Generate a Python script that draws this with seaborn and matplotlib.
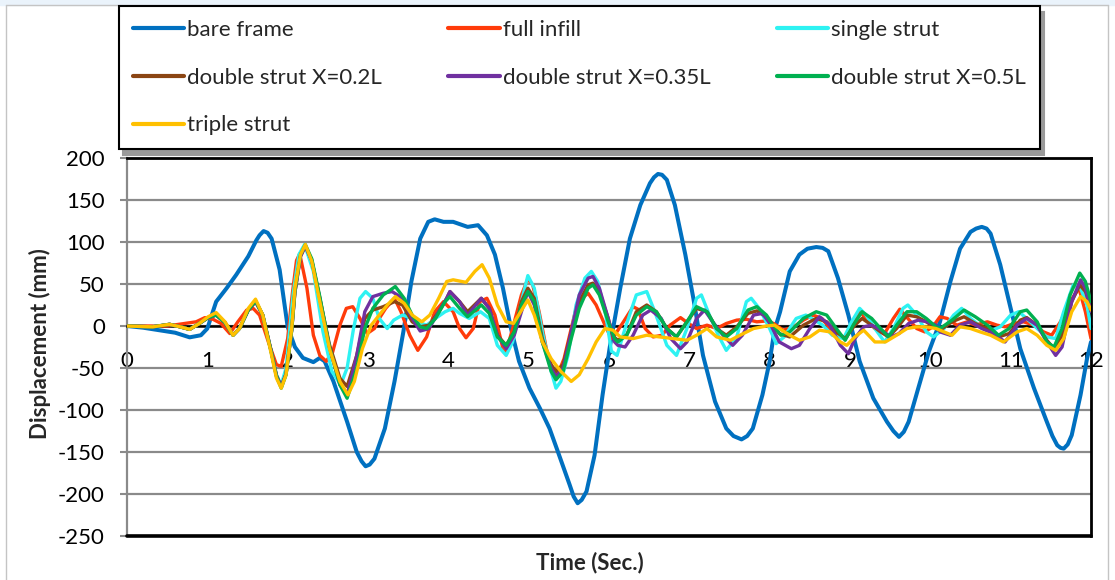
import matplotlib
matplotlib.use('Agg')
import matplotlib.pyplot as plt
import pandas as pd
import seaborn as sns
from matplotlib.lines import Line2D
from matplotlib.patches import Rectangle

# ---- data (time in s, displacement in mm) ----
t_bare = [0, 0.2, 0.4, 0.6, 0.78, 0.92, 1.0, 1.11, 1.24, 1.36, 1.51, 1.61, 1.65, 1.70, 1.75, 1.80, 1.90, 2.0,
          2.09, 2.19, 2.32, 2.40, 2.46, 2.57, 2.74, 2.86, 2.92, 2.97, 3.02, 3.08, 3.21, 3.33, 3.44, 3.54, 3.65,
          3.75, 3.83, 3.94, 4.06, 4.24, 4.37, 4.48, 4.58, 4.68, 4.78, 4.88, 5.01, 5.14, 5.26, 5.38, 5.51, 5.56,
          5.61, 5.66, 5.72, 5.82, 5.92, 6.01, 6.14, 6.26, 6.39, 6.51, 6.56, 6.61, 6.66, 6.72, 6.82, 6.95, 7.05,
          7.17, 7.32, 7.46, 7.55, 7.65, 7.72, 7.79, 7.91, 8.0, 8.06, 8.13, 8.25, 8.37, 8.47, 8.58, 8.66, 8.73,
          8.85, 8.98, 9.12, 9.29, 9.46, 9.54, 9.61, 9.67, 9.73, 9.85, 9.98, 10.12, 10.25, 10.37, 10.50, 10.57,
          10.64, 10.70, 10.75, 10.87, 11.0, 11.12, 11.29, 11.45, 11.52, 11.58, 11.62, 11.66, 11.71, 11.76,
          11.87, 11.95, 12.0]
bare_frame = [0, -2, -5, -8, -13.5, -11, -3, 29, 45, 61, 83, 102, 108, 113, 111, 104, 67, -1,
              -25, -38, -43, -38, -42, -66, -114, -150, -161, -167, -165, -158, -122, -66, -7, 53, 104,
              124, 127, 124, 124, 118, 120, 108, 85, 45, -3, -42, -74, -98, -122, -154, -189, -203,
              -211, -207, -197, -154, -82, -25, 45, 104, 144, 170, 177, 181, 180, 174, 144, 85, 33,
              -35, -90, -122, -131, -135, -131, -122, -82, -42, -5, 17, 65, 85, 92, 94, 93, 89,
              57, 13, -42, -86, -114, -125, -132, -126, -114, -74, -31, 5, 53, 92, 112, 116,
              118, 116, 110, 73, 21, -27, -74, -114, -131, -142, -145, -146, -141, -130,
              -82, -39, -19]

t_full = [0, 0.5, 0.86, 0.97, 1.07, 1.17, 1.28, 1.38, 1.49, 1.57, 1.65, 1.76, 1.86, 1.92, 2.0, 2.06, 2.11, 2.15,
          2.24, 2.32, 2.40, 2.48, 2.56, 2.65, 2.73, 2.81, 2.90, 2.99, 3.08, 3.14, 3.22, 3.33, 3.41, 3.52, 3.62,
          3.73, 3.83, 3.94, 4.02, 4.06, 4.14, 4.22, 4.31, 4.39, 4.48, 4.58, 4.68, 4.72, 4.80, 4.91, 4.99, 5.05,
          5.13, 5.22, 5.30, 5.36, 5.44, 5.53, 5.61, 5.74, 5.84, 5.95, 6.03, 6.07, 6.18, 6.30, 6.36, 6.45, 6.55,
          6.66, 6.76, 6.89, 6.99, 7.09, 7.22, 7.34, 7.46, 7.59, 7.71, 7.84, 7.96, 8.05, 8.17, 8.30, 8.42, 8.54,
          8.65, 8.75, 8.88, 8.96, 9.04, 9.12, 9.20, 9.31, 9.43, 9.54, 9.62, 9.72, 9.83, 9.93, 10.03, 10.12,
          10.21, 10.33, 10.46, 10.56, 10.71, 10.83, 10.93, 11.04, 11.16, 11.29, 11.41, 11.51, 11.62, 11.74,
          11.85, 11.93, 12.0]
full_infill = [0, 0, 5, 10, 8, 3, -9, 5, 19, 21, 13, -19, -46, -48, -15, 40, 78, 86,
               45, -11, -35, -42, -31, 1, 21, 23, 9, -9, -3, 9, 21, 33, 17, -11, -29,
               -13, 17, 29, 21, 17, -3, -14, -3, 29, 33, 13, -27, -31, -3, 37, 56, 49,
               17, -27, -54, -58, -39, -3, 29, 39, 25, 1, -15, -11, 5, 23, 20, -3, -13,
               -11, 1, 10, 3, -3, 1, -3, 3, 7, 8, 5, 6, 3, -5, -1, 7, 13,
               9, -3, -13, -13, 5, 19, 7, -3, -9, 9, 20, 9, -3, -7, -1, 11,
               9, 1, 5, 1, 5, 1, -1, 3, 5, 1, -7, -11, 5, 29,
               45, 17, -15]

t_single = [0, 0.3, 0.53, 0.66, 0.78, 0.9, 1.01, 1.11, 1.22, 1.32, 1.4, 1.51, 1.6, 1.69, 1.8, 1.86, 1.92, 1.98,
            2.07, 2.14, 2.21, 2.32, 2.44, 2.55, 2.66, 2.74, 2.82, 2.90, 2.97, 3.06, 3.14, 3.24, 3.32, 3.43,
            3.55, 3.67, 3.73, 3.84, 3.96, 4.06, 4.14, 4.26, 4.40, 4.51, 4.61, 4.72, 4.80, 4.91, 4.99, 5.07,
            5.17, 5.28, 5.34, 5.40, 5.49, 5.59, 5.70, 5.78, 5.86, 5.96, 6.03, 6.10, 6.20, 6.34, 6.47, 6.57,
            6.72, 6.84, 6.97, 7.09, 7.15, 7.25, 7.36, 7.46, 7.59, 7.71, 7.77, 7.87, 8.0, 8.08, 8.18, 8.33,
            8.45, 8.56, 8.66, 8.78, 8.92, 9.02, 9.12, 9.20, 9.31, 9.43, 9.54, 9.66, 9.72, 9.83, 9.95, 10.04,
            10.17, 10.29, 10.39, 10.50, 10.66, 10.77, 10.87, 11.0, 11.10, 11.20, 11.33, 11.45, 11.56, 11.66,
            11.78, 11.87, 11.95, 12.0]
single_strut = [0, -1, 2, -1, -4, 3, 10, 14, 4, -11, -3, 20, 30, 13, -33, -58, -70, -50,
                40, 85, 97, 65, -7, -54, -70, -50, -3, 33, 41, 33, 9, -3, 7, 13,
                9, 3, 1, 9, 17, 21, 15, 9, 17, 9, -23, -35, -19, 29, 60, 45,
                -7, -54, -74, -66, -35, 25, 57, 65, 53, 13, -30, -35, -3, 37, 41, 17,
                -23, -35, -3, 33, 37, 13, -11, -29, -13, 29, 33, 21, -3, -21, -13, 9,
                13, 7, 1, -11, -15, 5, 21, 13, -3, -19, -3, 21, 25, 13, -7, -13,
                -3, 13, 21, 9, -3, -5, -1, 13, 17, 9, -3, -13, -15, 17,
                49, 45, 25, -3]

t_d02 = [0, 0.32, 0.53, 0.66, 0.78, 0.9, 1.01, 1.11, 1.22, 1.32, 1.40, 1.51, 1.60, 1.69, 1.80, 1.86, 1.92, 1.98,
         2.05, 2.09, 2.16, 2.22, 2.30, 2.40, 2.52, 2.65, 2.74, 2.86, 2.96, 3.06, 3.19, 3.33, 3.43, 3.55, 3.65,
         3.76, 3.88, 3.98, 4.02, 4.14, 4.24, 4.41, 4.51, 4.61, 4.72, 4.82, 4.91, 4.99, 5.07, 5.17, 5.28, 5.34,
         5.43, 5.53, 5.63, 5.74, 5.80, 5.88, 5.99, 6.05, 6.11, 6.22, 6.34, 6.47, 6.59, 6.72, 6.84, 6.97, 7.09,
         7.22, 7.34, 7.46, 7.59, 7.73, 7.84, 7.96, 8.03, 8.12, 8.25, 8.42, 8.58, 8.71, 8.83, 8.94, 9.06, 9.15,
         9.27, 9.38, 9.48, 9.58, 9.71, 9.83, 9.95, 10.07, 10.12, 10.27, 10.42, 10.56, 10.71, 10.85, 10.98,
         11.12, 11.20, 11.33, 11.45, 11.54, 11.64, 11.76, 11.86, 11.93, 12.0]
double_02 = [0, -1, 2, -1, -4, 3, 10, 13, 4, -11, -3, 19, 29, 13, -32, -59, -72, -57,
             -5, 40, 83, 95, 78, 33, -22, -62, -72, -35, 9, 19, 23, 29, 25, 5, -1,
             1, 17, 33, 41, 29, 17, 33, 21, -11, -23, -7, 29, 45, 33, -15, -46, -54,
             -46, -7, 29, 49, 51, 41, 9, -12, -17, -11, 17, 25, 17, -3, -13, 5, 21,
             17, -3, -11, -1, 15, 18, 11, 2, -9, -13, 1, 9, 5, -7, -15, 1, 9,
             1, -7, -13, -3, 13, 11, 5, -3, -5, 5, 11, 3, -3, -13, -9,
             7, 10, 1, -17, -27, -11, 29, 49, 41, 21]

t_d035 = [0, 0.32, 0.53, 0.66, 0.78, 0.9, 1.01, 1.11, 1.22, 1.32, 1.40, 1.51, 1.60, 1.69, 1.80, 1.86, 1.92, 1.98,
          2.05, 2.09, 2.16, 2.22, 2.30, 2.40, 2.52, 2.65, 2.74, 2.86, 2.96, 3.06, 3.19, 3.30, 3.43, 3.55, 3.65,
          3.76, 3.88, 3.98, 4.02, 4.14, 4.24, 4.41, 4.51, 4.61, 4.72, 4.82, 4.91, 4.99, 5.07, 5.17, 5.28, 5.34,
          5.43, 5.53, 5.63, 5.74, 5.80, 5.88, 5.99, 6.07, 6.11, 6.20, 6.30, 6.42, 6.52, 6.65, 6.77, 6.89, 6.97,
          7.09, 7.19, 7.29, 7.42, 7.54, 7.66, 7.80, 7.91, 8.01, 8.12, 8.27, 8.37, 8.50, 8.62, 8.75, 8.88, 8.98,
          9.06, 9.17, 9.27, 9.39, 9.51, 9.61, 9.73, 9.85, 9.96, 10.07, 10.12, 10.25, 10.37, 10.50, 10.64,
          10.79, 10.93, 11.08, 11.20, 11.33, 11.45, 11.56, 11.64, 11.76, 11.87, 11.93, 12.0]
double_035 = [0, -1, 2, -1, -4, 3, 10, 13, 4, -11, -3, 19, 29, 13, -32, -59, -72, -57,
              -5, 40, 83, 95, 78, 33, -25, -70, -82, -35, 17, 35, 39, 41, 33, 9, -6,
              -3, 17, 33, 41, 29, 13, 33, 21, -11, -27, -11, 17, 41, 25, -19, -50, -60,
              -50, -7, 37, 57, 59, 45, 9, -19, -23, -25, -11, 13, 19, 9, -15, -27, -19,
              9, 19, 5, -11, -23, -11, 13, 15, 2, -19, -27, -23, -3, 11, 1, -23, -33,
              -15, -1, 1, -5, -13, -9, 3, 7, 5, 1, -7, -11, 1, 5, -3,
              -9, -19, 1, 9, 1, -19, -35, -25, 29, 55, 45, 17]

t_d05 = [0, 0.32, 0.53, 0.66, 0.78, 0.9, 1.01, 1.11, 1.22, 1.32, 1.40, 1.51, 1.60, 1.69, 1.80, 1.86, 1.92, 1.98,
         2.05, 2.09, 2.16, 2.22, 2.30, 2.40, 2.52, 2.65, 2.74, 2.86, 2.96, 3.06, 3.19, 3.34, 3.45, 3.55, 3.65,
         3.73, 3.84, 3.96, 4.02, 4.14, 4.24, 4.41, 4.51, 4.61, 4.72, 4.82, 4.91, 4.99, 5.07, 5.17, 5.28, 5.34,
         5.43, 5.53, 5.63, 5.74, 5.80, 5.88, 5.99, 6.07, 6.11, 6.22, 6.34, 6.47, 6.59, 6.72, 6.84, 6.97, 7.09,
         7.22, 7.34, 7.46, 7.59, 7.73, 7.84, 7.96, 8.05, 8.14, 8.25, 8.42, 8.58, 8.71, 8.83, 8.94, 9.04, 9.15,
         9.27, 9.38, 9.48, 9.58, 9.71, 9.83, 9.95, 10.07, 10.12, 10.27, 10.42, 10.56, 10.71, 10.85, 10.98,
         11.12, 11.20, 11.33, 11.45, 11.54, 11.64, 11.74, 11.86, 11.93, 12.0]
double_05 = [0, -1, 2, -1, -4, 3, 10, 13, 4, -11, -3, 19, 30, 13, -33, -60, -74, -58,
             -5, 42, 85, 97, 80, 35, -25, -70, -86, -50, -3, 21, 37, 47, 33, 13, -1,
             -3, 9, 29, 35, 21, 11, 25, 15, -13, -23, -7, 25, 41, 29, -19, -54, -64,
             -54, -15, 21, 45, 49, 37, 5, -15, -19, -11, 13, 23, 17, -3, -13, 5, 23,
             17, -3, -13, -3, 19, 23, 13, 0, -11, -7, 9, 17, 13, -3, -17, 1, 17,
             9, -3, -13, 1, 17, 17, 9, -1, -3, 7, 19, 11, 1, -11, -3,
             17, 19, 5, -19, -25, -3, 37, 63, 53, 29]

t_triple = [0, 0.32, 0.53, 0.66, 0.78, 0.9, 1.01, 1.11, 1.22, 1.32, 1.40, 1.51, 1.60, 1.69, 1.80, 1.86, 1.92, 1.98,
            2.05, 2.09, 2.16, 2.22, 2.30, 2.40, 2.52, 2.65, 2.75, 2.83, 2.93, 3.04, 3.14, 3.24, 3.34, 3.45, 3.55,
            3.67, 3.77, 3.88, 3.98, 4.06, 4.22, 4.33, 4.42, 4.51, 4.61, 4.72, 4.81, 4.90, 4.99, 5.07, 5.17, 5.28,
            5.40, 5.53, 5.63, 5.74, 5.84, 5.95, 6.05, 6.14, 6.30, 6.47, 6.63, 6.80, 6.97, 7.09, 7.22, 7.34, 7.51,
            7.63, 7.80, 7.96, 8.06, 8.12, 8.25, 8.37, 8.50, 8.62, 8.75, 8.88, 8.96, 9.06, 9.17, 9.31, 9.44, 9.58,
            9.71, 9.83, 9.95, 10.07, 10.12, 10.27, 10.37, 10.50, 10.62, 10.75, 10.91, 11.08, 11.20, 11.33,
            11.45, 11.56, 11.66, 11.76, 11.87, 11.95, 12.0]
triple_strut = [0, -1, 2, -1, -4, 3, 11, 16, 5, -11, -3, 21, 32, 13, -35, -62, -74, -58,
                -3, 45, 85, 97, 77, 29, -27, -66, -82, -66, -27, 1, 13, 25, 35, 27, 13,
                5, 13, 33, 53, 55, 52, 65, 73, 57, 25, 5, 3, 17, 31, 13, -19, -39,
                -54, -66, -58, -39, -19, -3, -5, -13, -15, -11, -13, -15, -17, -11, -3, -13, -17,
                -11, -3, 0, 1, -3, -11, -17, -13, -5, -7, -19, -23, -13, -5, -19, -19, -11,
                -3, -1, -1, -3, -5, -11, -1, -3, -7, -11, -19, -7, -3, -11,
                -23, -29, -15, 17, 35, 29, 19]

labels = ['bare frame', 'full infill', 'single strut', 'double strut X=0.2L',
          'double strut X=0.35L', 'double strut X=0.5L', 'triple strut']
times = [t_bare, t_full, t_single, t_d02, t_d035, t_d05, t_triple]
values = [bare_frame, full_infill, single_strut, double_02, double_035, double_05, triple_strut]
colors = ['#0070C0', '#FF3B0A', '#2EF2F2', '#8B4513', '#7030A0', '#00B050', '#FFC000']

sns.set_theme(style='white')
plt.rcParams['font.family'] = ['Lato', 'DejaVu Sans']
plt.rcParams['axes.unicode_minus'] = False

W, H = 1115, 580
fig = plt.figure(figsize=(W / 100, H / 100), dpi=100)
fig.patches.append(Rectangle((0, 1 - 5 / H), 1, 5 / H, transform=fig.transFigure,
                             color='#EAF3FB', zorder=0))
for xs, ys in [([6 / W, 6 / W], [0, 1 - 5 / H]), ([6 / W, 1108 / W], [1 - 5 / H, 1 - 5 / H]),
               ([1108 / W, 1108 / W], [0, 1 - 5 / H])]:
    fig.add_artist(Line2D(xs, ys, color='#C4C4C4', lw=1))

ax = fig.add_axes([127 / W, 44 / H, 964 / W, 378 / H])

for t, v, lab, c in zip(times, values, labels, colors):
    df = pd.DataFrame({'time': t, 'disp': v})
    sns.lineplot(data=df, x='time', y='disp', ax=ax, color=c, sort=False, estimator=None,
                 linewidth=2.9 if lab == 'bare frame' else 2.4, legend=False, zorder=3,
                 solid_joinstyle='round', solid_capstyle='round')

ax.set_xlim(0, 12)
ax.set_ylim(-250, 200)
ax.set_xticks(range(0, 13))
ax.set_yticks(range(-250, 201, 50))
ax.yaxis.grid(True, color='#8A8A8A', lw=1.6)
ax.xaxis.grid(False)
ax.set_axisbelow(True)
ax.set_xlabel('')
ax.set_ylabel('')

# Excel-like axes: x axis crosses at zero, frame on the other sides
ax.spines['bottom'].set_position(('data', 0))
ax.spines['bottom'].set_color('black')
ax.spines['bottom'].set_linewidth(1.8)
ax.spines['left'].set_color('#8A8A8A')
ax.spines['left'].set_linewidth(1.6)
for s in ['top', 'right']:
    ax.spines[s].set_color('black')
    ax.spines[s].set_linewidth(2)
ax.axhline(-250, color='black', lw=2.6, clip_on=False, zorder=4)

ax.tick_params(axis='x', direction='out', length=6, width=1.5, color='black', pad=12,
               labelsize=16, labelcolor='black')
ax.tick_params(axis='y', direction='out', length=5, width=1.5, color='#8A8A8A', pad=11,
               labelsize=16, labelcolor='black', left=True)

fig.text(40 / W, 1 - 344 / H, 'Displacement (mm)', rotation=90, ha='center', va='center',
         fontsize=16, fontweight='bold')
fig.text(590 / W, 1 - 563 / H, 'Time (Sec.)', ha='center', va='center',
         fontsize=16, fontweight='bold')

handles = [Line2D([], [], color=c, lw=3) for c in colors]
order = [0, 3, 6, 1, 4, 2, 5]
leg = fig.legend([handles[i] for i in order], [labels[i] for i in order],
                 loc='upper left', bbox_to_anchor=(119 / W, 0, 921 / W, 1 - 6 / H),
                 mode='expand', ncol=3, frameon=True, fancybox=False, edgecolor='black',
                 fontsize=16, handlelength=2.3, handletextpad=0.15, labelspacing=1.25,
                 borderpad=0.62, borderaxespad=0,
                 shadow={'ox': 3, 'oy': -4, 'color': '#9A9A9A', 'alpha': 1})
leg.get_frame().set_linewidth(1.5)
leg.get_frame().set_facecolor('white')
leg.get_frame().set_alpha(1)

fig.savefig('out.png', dpi=100)
